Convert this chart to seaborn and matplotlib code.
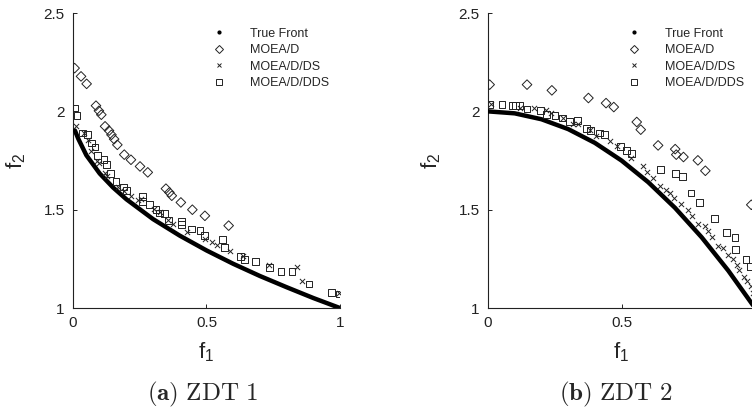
import matplotlib
matplotlib.use('Agg')
import matplotlib.pyplot as plt
import seaborn as sns
import pandas as pd
from matplotlib.lines import Line2D

# ---- ZDT 1 ----
zdt1_front_f1 = [0.007, 0.02, 0.05, 0.1, 0.15, 0.2, 0.3, 0.4, 0.5, 0.6, 0.7, 0.8, 0.9, 1.0]
zdt1_front_f2 = [1.903, 1.86, 1.777, 1.684, 1.613, 1.553, 1.452, 1.368, 1.293, 1.225, 1.163, 1.106, 1.051, 1.0]

zdt1_moead_f1 = [0.006, 0.03, 0.051, 0.086, 0.097, 0.106, 0.12, 0.135, 0.144, 0.154, 0.166,
                 0.192, 0.217, 0.251, 0.28, 0.348, 0.361, 0.37, 0.404, 0.447, 0.494, 0.583]
zdt1_moead_f2 = [2.22, 2.178, 2.14, 2.029, 2.003, 1.983, 1.924, 1.902, 1.881, 1.859, 1.83,
                 1.78, 1.754, 1.72, 1.69, 1.607, 1.588, 1.571, 1.537, 1.5, 1.469, 1.419]

zdt1_ds_f1 = [0.011, 0.041, 0.056, 0.066, 0.089, 0.097, 0.121, 0.129, 0.17, 0.192, 0.217, 0.242,
              0.255, 0.305, 0.326, 0.357, 0.376, 0.426, 0.493, 0.519, 0.538, 0.588, 0.638, 0.733,
              0.84, 0.856, 0.998]
zdt1_ds_f2 = [1.927, 1.89, 1.853, 1.797, 1.749, 1.737, 1.686, 1.673, 1.614, 1.593, 1.568, 1.551,
              1.556, 1.503, 1.486, 1.449, 1.429, 1.385, 1.351, 1.334, 1.322, 1.288, 1.263, 1.22,
              1.207, 1.139, 1.076]

zdt1_dds_f1 = [0.007, 0.015, 0.037, 0.054, 0.07, 0.082, 0.092, 0.116, 0.124, 0.139, 0.161, 0.189,
               0.201, 0.261, 0.261, 0.285, 0.311, 0.323, 0.342, 0.357, 0.407, 0.407, 0.444, 0.476,
               0.493, 0.559, 0.568, 0.628, 0.642, 0.685, 0.735, 0.779, 0.82, 0.884, 0.969, 0.998]
zdt1_dds_f2 = [2.017, 1.98, 1.89, 1.881, 1.839, 1.819, 1.775, 1.754, 1.731, 1.686, 1.644, 1.615,
               1.597, 1.568, 1.542, 1.525, 1.5, 1.483, 1.481, 1.446, 1.441, 1.424, 1.402, 1.393,
               1.368, 1.347, 1.308, 1.263, 1.246, 1.237, 1.208, 1.186, 1.186, 1.122, 1.081, 1.071]

# ---- ZDT 2 ----
zdt2_front_f1 = [0.0, 0.1, 0.2, 0.3, 0.4, 0.5, 0.6, 0.7, 0.8, 0.9, 1.0]
zdt2_front_f2 = [2.0, 1.99, 1.96, 1.91, 1.84, 1.75, 1.64, 1.51, 1.36, 1.19, 1.0]

zdt2_moead_f1 = [0.006, 0.146, 0.239, 0.376, 0.442, 0.471, 0.557, 0.572, 0.637, 0.701, 0.705,
                 0.732, 0.786, 0.814, 0.986]
zdt2_moead_f2 = [2.136, 2.136, 2.107, 2.068, 2.042, 2.022, 1.946, 1.907, 1.827, 1.808, 1.78,
                 1.768, 1.751, 1.698, 1.525]

zdt2_ds_f1 = [0.01, 0.121, 0.173, 0.217, 0.236, 0.28, 0.318, 0.337, 0.381, 0.406, 0.456, 0.484,
              0.534, 0.579, 0.597, 0.619, 0.645, 0.665, 0.682, 0.698, 0.724, 0.749, 0.765, 0.785,
              0.812, 0.824, 0.839, 0.861, 0.881, 0.898, 0.916, 0.931, 0.94, 0.959, 0.971, 0.986, 0.994]
zdt2_ds_f2 = [2.037, 2.017, 2.017, 2.005, 1.992, 1.966, 1.937, 1.937, 1.903, 1.873, 1.847, 1.822,
              1.763, 1.724, 1.69, 1.659, 1.622, 1.598, 1.585, 1.559, 1.531, 1.5, 1.469, 1.429,
              1.419, 1.39, 1.361, 1.317, 1.305, 1.271, 1.249, 1.22, 1.195, 1.158, 1.136, 1.11, 1.076]

zdt2_dds_f1 = [0.006, 0.052, 0.092, 0.104, 0.117, 0.146, 0.196, 0.22, 0.251, 0.28, 0.305, 0.334,
               0.368, 0.383, 0.416, 0.437, 0.497, 0.519, 0.536, 0.647, 0.701, 0.727, 0.76, 0.791,
               0.848, 0.893, 0.925, 0.927, 0.966, 0.984]
zdt2_dds_f2 = [2.037, 2.037, 2.029, 2.029, 2.029, 2.012, 2.005, 1.983, 1.98, 1.966, 1.949, 1.953,
               1.912, 1.903, 1.89, 1.881, 1.822, 1.802, 1.785, 1.703, 1.686, 1.669, 1.585, 1.537,
               1.454, 1.386, 1.359, 1.297, 1.246, 1.212]

legend_labels = ["True Front", "MOEA/D", "MOEA/D/DS", "MOEA/D/DDS"]
x_ticks = [0, 0.5, 1]
x_tick_labels = ["0", "0.5", "1"]
y_ticks = [1, 1.5, 2, 2.5]
y_tick_labels = ["1", "1.5", "2", "2.5"]
captions = [r"$\mathbf{(a)}\ \mathrm{ZDT\ 1}$", r"$\mathbf{(b)}\ \mathrm{ZDT\ 2}$"]

sns.set_style("ticks")
plt.rcParams['font.family'] = ['Liberation Sans', 'DejaVu Sans']
plt.rcParams['mathtext.default'] = 'regular'
plt.rcParams['xtick.direction'] = 'in'
plt.rcParams['ytick.direction'] = 'in'

fig = plt.figure(figsize=(7.52, 4.08), dpi=100)
ax_a = fig.add_axes([0.0971, 0.245, 0.355, 0.723])
ax_b = fig.add_axes([0.649, 0.245, 0.355, 0.723])

panels = [
    (ax_a, zdt1_front_f1, zdt1_front_f2, zdt1_moead_f1, zdt1_moead_f2,
     zdt1_ds_f1, zdt1_ds_f2, zdt1_dds_f1, zdt1_dds_f2),
    (ax_b, zdt2_front_f1, zdt2_front_f2, zdt2_moead_f1, zdt2_moead_f2,
     zdt2_ds_f1, zdt2_ds_f2, zdt2_dds_f1, zdt2_dds_f2),
]

mk = dict(facecolor='none', edgecolor='#222222', linewidth=0.7, legend=False)

for i, (ax, tf1, tf2, m1, m2, d1, d2, s1, s2) in enumerate(panels):
    front = pd.DataFrame({"f1": tf1, "f2": tf2})
    sns.lineplot(data=front, x="f1", y="f2", ax=ax, color='black', linewidth=3.2,
                 sort=False, estimator=None, zorder=3)
    sns.scatterplot(x=m1, y=m2, ax=ax, marker='D', s=24, zorder=4, **mk)
    sns.scatterplot(x=d1, y=d2, ax=ax, marker='x', s=14, color='#222222',
                    linewidth=0.7, legend=False, zorder=4)
    sns.scatterplot(x=s1, y=s2, ax=ax, marker='s', s=24, zorder=4, **mk)

    ax.set_xlim(0, 1)
    ax.set_ylim(1, 2.5)
    ax.set_xticks(x_ticks)
    ax.set_xticklabels(x_tick_labels)
    ax.set_yticks(y_ticks)
    ax.set_yticklabels(y_tick_labels)
    ax.tick_params(labelsize=11, length=3, width=0.7, colors='#222222', pad=6)
    sns.despine(ax=ax)
    for sp in ['left', 'bottom']:
        ax.spines[sp].set_linewidth(0.8)
        ax.spines[sp].set_color('#222222')
    ax.set_xlabel("$f_1$", fontsize=16, labelpad=7)
    ax.set_ylabel("$f_2$", fontsize=16, labelpad=11)

    handles = [
        Line2D([], [], linestyle='none', marker='.', color='black', markersize=4),
        Line2D([], [], linestyle='none', marker='D', markerfacecolor='none',
               markeredgecolor='#222222', markersize=4.5, markeredgewidth=0.7),
        Line2D([], [], linestyle='none', marker='x', color='#222222',
               markersize=3.5, markeredgewidth=0.7),
        Line2D([], [], linestyle='none', marker='s', markerfacecolor='none',
               markeredgecolor='#222222', markersize=4.5, markeredgewidth=0.7),
    ]
    ax.legend(handles, legend_labels, loc='upper left', bbox_to_anchor=(0.524, 0.95),
              frameon=False, fontsize=9, handlelength=1.0, handletextpad=1.95,
              labelspacing=0.36, borderpad=0, borderaxespad=0)

fig.text(0.269, 0.032, captions[0], ha='center', va='center', fontsize=18,
         math_fontfamily='cm')
fig.text(0.819, 0.032, captions[1], ha='center', va='center', fontsize=18,
         math_fontfamily='cm')

fig.savefig("out.png", dpi=100)
